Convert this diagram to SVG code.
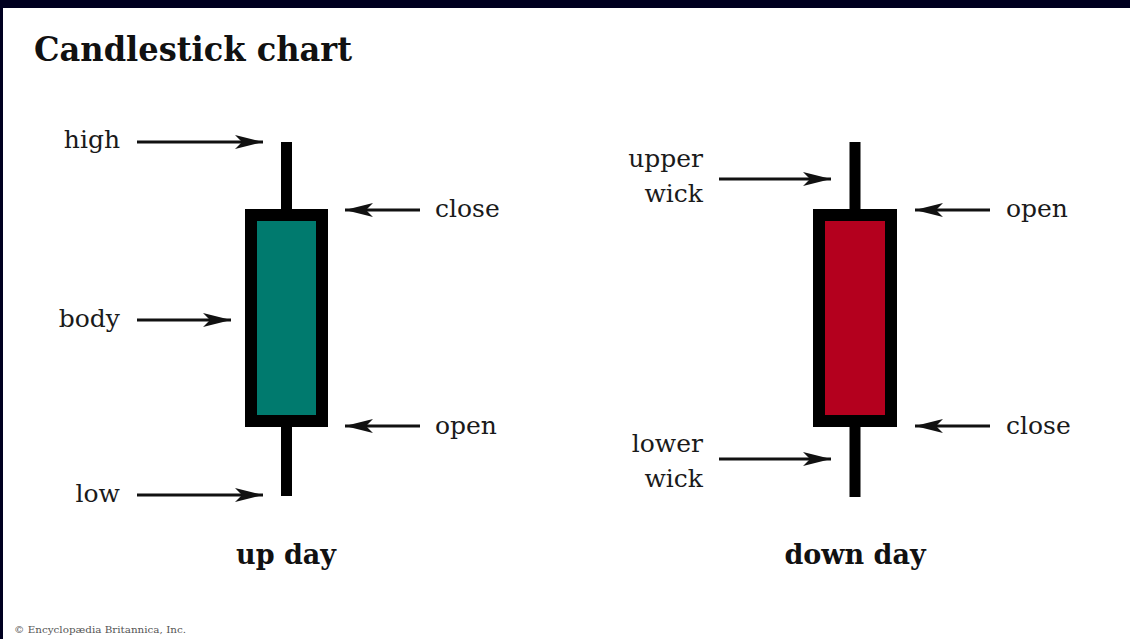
<svg xmlns="http://www.w3.org/2000/svg" width="1130" height="639" viewBox="0 0 1130 639">
<defs>
<style>
.lbl{font-family:"DejaVu Serif","Liberation Serif",serif;font-size:25px;fill:#1a1a1a}
.ttl{font-family:"DejaVu Serif","Liberation Serif",serif;font-weight:bold;fill:#111}
.arr{stroke:#111;stroke-width:3;fill:none;marker-end:url(#ah)}
.wick{fill:#000}
.body{stroke:#000;stroke-width:12}
</style>
<marker id="ah" viewBox="0 0 28 16" refX="28" refY="8" markerWidth="28" markerHeight="16" markerUnits="userSpaceOnUse" orient="auto">
<path d="M0,1 L28,8 L0,15 L7,8 Z" fill="#111"/>
</marker>
</defs>
<rect x="0" y="0" width="1130" height="639" fill="#000020"/>
<rect x="3" y="8" width="1127" height="631" fill="#ffffff"/>
<text class="ttl" x="34" y="61" font-size="34" textLength="318" lengthAdjust="spacingAndGlyphs">Candlestick chart</text>

<g id="up-candle">
<rect class="wick" x="281" y="142" width="11" height="354"/>
<rect class="body" x="251" y="215" width="71" height="206" fill="#007a6e"/>
</g>
<g id="down-candle">
<rect class="wick" x="849.5" y="142" width="11" height="355"/>
<rect class="body" x="819" y="215" width="72" height="206" fill="#b4001e"/>
</g>

<g id="connectors">
<path class="arr" d="M137,142 H263"/>
<path class="arr" d="M137,320 H231"/>
<path class="arr" d="M137,495 H263"/>
<path class="arr" d="M420,210 H345"/>
<path class="arr" d="M420,426 H345"/>
<path class="arr" d="M719,179 H831"/>
<path class="arr" d="M719,459 H831"/>
<path class="arr" d="M990,210 H915"/>
<path class="arr" d="M990,426 H915"/>
</g>

<g id="labels-up">
<text class="lbl" x="120" y="148" text-anchor="end">high</text>
<text class="lbl" x="120" y="327" text-anchor="end">body</text>
<text class="lbl" x="120" y="502" text-anchor="end">low</text>
<text class="lbl" x="435" y="217">close</text>
<text class="lbl" x="435" y="434">open</text>
<text class="ttl" x="286" y="564" font-size="27" text-anchor="middle">up day</text>
</g>
<g id="labels-down">
<text class="lbl" x="703" y="167" text-anchor="end">upper</text>
<text class="lbl" x="703" y="202" text-anchor="end">wick</text>
<text class="lbl" x="703" y="452" text-anchor="end">lower</text>
<text class="lbl" x="703" y="487" text-anchor="end">wick</text>
<text class="lbl" x="1006" y="217">open</text>
<text class="lbl" x="1006" y="434">close</text>
<text class="ttl" x="855" y="564" font-size="27" text-anchor="middle">down day</text>
</g>
<text x="14" y="633" font-family="DejaVu Serif, Liberation Serif, serif" font-size="10" fill="#555" textLength="172" lengthAdjust="spacingAndGlyphs">© Encyclopædia Britannica, Inc.</text>
</svg>
